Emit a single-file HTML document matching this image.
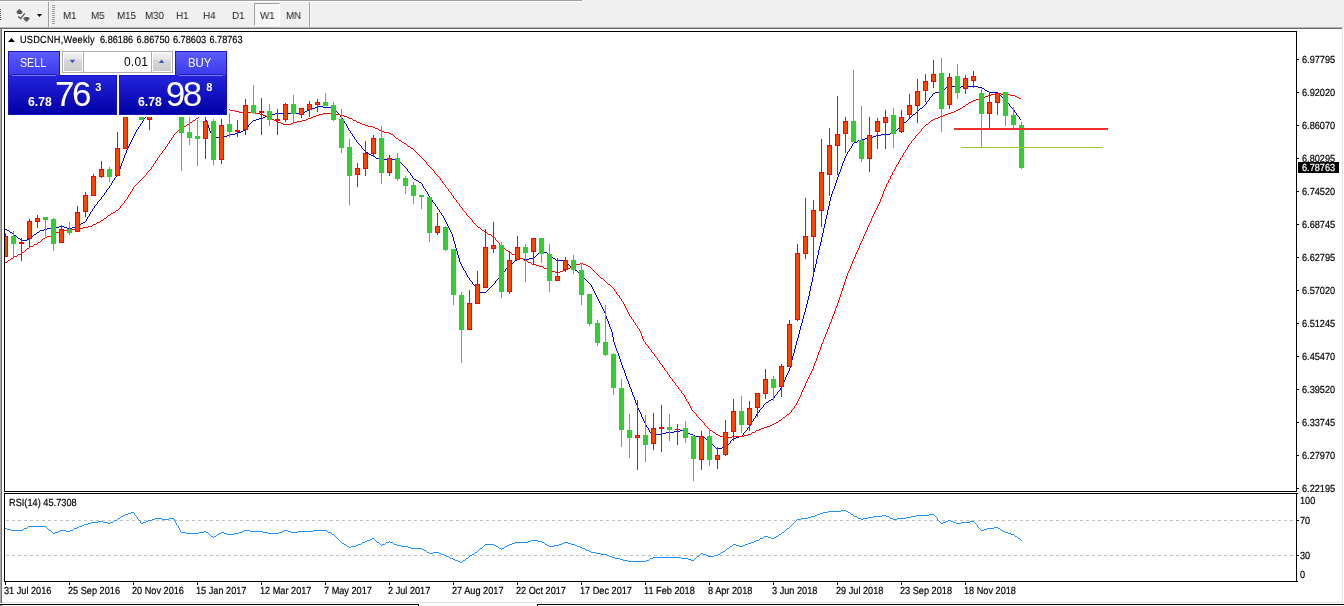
<!DOCTYPE html>
<html><head><meta charset="utf-8"><title>USDCNH Weekly</title>
<style>
html,body{margin:0;padding:0;background:#fff;}
body{width:1344px;height:606px;position:relative;overflow:hidden;font-family:"Liberation Sans",sans-serif;}
.abs{position:absolute;}
.ax{position:absolute;font-size:10.3px;line-height:12px;letter-spacing:0;margin-top:2px;transform:scaleX(0.89);transform-origin:0 0;text-rendering:geometricPrecision;-webkit-text-stroke:0.2px #000;color:#000;white-space:nowrap;}
.tf{position:absolute;top:11px;font-size:10.3px;line-height:12px;letter-spacing:0;transform:scaleX(0.95);transform-origin:0 0;will-change:transform;text-rendering:geometricPrecision;color:#222;white-space:nowrap;}
#toolbar{position:absolute;left:0;top:0;width:1344px;height:27px;background:#F0F0F0;}
.w{color:#fff;position:absolute;white-space:nowrap;}
</style></head><body>
<div id="toolbar">
 <div class="abs" style="left:0;top:0;width:582px;height:1px;background:#A0A0A0"></div>
 <div class="abs" style="left:0;top:1px;width:583px;height:1px;background:#fff"></div>
 <div style="position:absolute;left:0;top:9px;width:1px;height:1px;background:#555"></div><div style="position:absolute;left:0;top:11px;width:1px;height:1px;background:#555"></div><div style="position:absolute;left:0;top:13px;width:1px;height:1px;background:#555"></div><div style="position:absolute;left:0;top:15px;width:1px;height:1px;background:#555"></div><div style="position:absolute;left:0;top:17px;width:1px;height:1px;background:#555"></div><div style="position:absolute;left:0;top:19px;width:1px;height:1px;background:#555"></div>
 <svg class="abs" style="left:14px;top:7px" width="32" height="18" viewBox="14 7 32 18">
  <path d="M19.4 8.8 L23.2 12.6 L21.8 12.6 L21.8 14 L17.3 14 L17.3 12.6 L15.8 12.6 Z" fill="#585858"/>
  <path d="M26.5 22 L30.2 18.2 L28.6 18.2 L28.6 17 L24.4 17 L24.4 18.2 L22.8 18.2 Z" fill="#585858"/>
  <path d="M18.2 16.4 L20.6 18.6 L24.8 13.4" fill="none" stroke="#555" stroke-width="1.3"/>
  <path d="M37 14 L42 14 L39.5 17 Z" fill="#000"/>
 </svg>
 <div class="abs" style="left:48px;top:2px;width:1px;height:25px;background:#A0A0A0"></div>
 <div class="abs" style="left:49px;top:2px;width:1px;height:25px;background:#F8F8F8"></div>
 <div style="position:absolute;left:52px;top:5px;width:3px;height:1px;background:#A0A0A0"></div><div style="position:absolute;left:52px;top:7px;width:3px;height:1px;background:#A0A0A0"></div><div style="position:absolute;left:52px;top:9px;width:3px;height:1px;background:#A0A0A0"></div><div style="position:absolute;left:52px;top:11px;width:3px;height:1px;background:#A0A0A0"></div><div style="position:absolute;left:52px;top:13px;width:3px;height:1px;background:#A0A0A0"></div><div style="position:absolute;left:52px;top:15px;width:3px;height:1px;background:#A0A0A0"></div><div style="position:absolute;left:52px;top:17px;width:3px;height:1px;background:#A0A0A0"></div><div style="position:absolute;left:52px;top:19px;width:3px;height:1px;background:#A0A0A0"></div><div style="position:absolute;left:52px;top:21px;width:3px;height:1px;background:#A0A0A0"></div><div style="position:absolute;left:52px;top:23px;width:3px;height:1px;background:#A0A0A0"></div>
 <div class="abs" style="left:254px;top:3px;width:24px;height:21px;background:#F7F7F7;border-left:1px solid #A0A0A0;border-top:1px solid #A0A0A0;border-right:1px solid #fff;border-bottom:1px solid #fff;box-sizing:content-box"></div>
 <div class="tf" style="left:63.4px">M1</div>
<div class="tf" style="left:91.3px">M5</div>
<div class="tf" style="left:117.4px">M15</div>
<div class="tf" style="left:145px">M30</div>
<div class="tf" style="left:176.4px">H1</div>
<div class="tf" style="left:203.4px">H4</div>
<div class="tf" style="left:232.4px">D1</div>
<div class="tf" style="left:259.8px">W1</div>
<div class="tf" style="left:286.4px">MN</div>
 <div class="abs" style="left:309px;top:2px;width:1px;height:25px;background:#A0A0A0"></div>
 <div class="abs" style="left:310px;top:2px;width:1px;height:25px;background:#F8F8F8"></div>
</div>
<div class="abs" style="left:0;top:27px;width:1342px;height:1px;background:#B4B4B4"></div>
<div class="abs" style="left:0;top:28px;width:1342px;height:1px;background:#696969"></div>
<div class="abs" style="left:0;top:29px;width:1px;height:574px;background:#ABABAB"></div>
<div class="abs" style="left:1px;top:29px;width:1px;height:574px;background:#6E6E6E"></div>
<div class="abs" style="left:1342px;top:27px;width:1px;height:576px;background:#E3E3E3"></div>
<div class="abs" style="left:2px;top:602px;width:1341px;height:1px;background:#E3E3E3"></div>
<div class="abs" style="left:0;top:605px;width:2px;height:1px;background:#8C8C8C"></div>
<div class="abs" style="left:0;top:604px;width:419px;height:1px;background:#000"></div>
<div class="abs" style="left:418px;top:604px;width:1px;height:2px;background:#000"></div>
<div class="abs" style="left:537px;top:604px;width:807px;height:1px;background:#000"></div>
<div class="abs" style="left:537px;top:604px;width:1px;height:2px;background:#000"></div>

<svg class="abs" style="left:0;top:0" width="1344" height="606" viewBox="0 0 1344 606">
<defs><clipPath id="cm"><rect x="5" y="32" width="1291" height="459"/></clipPath>
<clipPath id="cr"><rect x="5" y="494" width="1291" height="87"/></clipPath></defs>
<g clip-path="url(#cm)" shape-rendering="crispEdges">
<path d="M5 229h2v1h-2zM7 230h2v1h-2zM9 231h1v1h-1zM10 232h2v1h-2zM12 233h1v1h-1zM13 234h1v1h-1zM14 235h2v1h-2zM16 236h1v1h-1zM17 237h1v1h-1zM18 238h2v1h-2zM20 239h1v1h-1zM21 240h6v1h-6zM27 239h2v1h-2zM29 238h1v1h-1zM30 237h1v1h-1zM31 236h2v1h-2zM33 235h1v1h-1zM34 234h2v1h-2zM36 233h1v1h-1zM37 232h2v1h-2zM39 231h1v1h-1zM40 230h4v1h-4zM44 229h3v1h-3zM47 228h7v1h-7zM54 227h5v1h-5zM59 226h5v1h-5zM64 227h3v1h-3zM67 228h5v1h-5zM72 227h3v1h-3zM75 226h2v1h-2zM77 225h2v1h-2zM79 224h2v1h-2zM81 223h2v1h-2zM83 222h2v1h-2zM85 221h1v1h-1zM86 219h1v2h-1zM87 217h1v2h-1zM88 216h1v1h-1zM89 214h1v2h-1zM90 212h1v2h-1zM91 211h1v1h-1zM92 209h1v2h-1zM93 208h1v1h-1zM94 206h1v2h-1zM95 205h1v1h-1zM96 204h1v1h-1zM97 202h1v2h-1zM98 201h1v1h-1zM99 200h1v1h-1zM100 199h1v1h-1zM101 197h1v2h-1zM102 196h1v1h-1zM103 195h1v1h-1zM104 193h1v2h-1zM105 192h1v1h-1zM106 190h1v2h-1zM107 189h1v1h-1zM108 188h1v1h-1zM109 186h1v2h-1zM110 185h1v1h-1zM111 183h1v2h-1zM112 181h1v2h-1zM113 180h1v1h-1zM114 178h1v2h-1zM115 177h1v1h-1zM116 175h1v2h-1zM117 173h1v2h-1zM118 171h1v2h-1zM119 169h1v2h-1zM120 166h1v3h-1zM121 163h1v3h-1zM122 161h1v2h-1zM123 158h1v3h-1zM124 155h1v3h-1zM125 153h1v2h-1zM126 150h1v3h-1zM127 148h1v2h-1zM128 146h1v2h-1zM129 144h1v2h-1zM130 142h1v2h-1zM131 140h1v2h-1zM132 138h1v2h-1zM133 136h1v2h-1zM134 134h1v2h-1zM135 132h1v2h-1zM136 130h1v2h-1zM137 129h1v1h-1zM138 127h1v2h-1zM139 126h1v1h-1zM140 124h1v2h-1zM141 123h1v1h-1zM142 121h1v2h-1zM143 119h1v2h-1zM144 118h1v1h-1zM145 117h1v1h-1zM146 115h1v2h-1zM147 114h1v1h-1zM148 112h1v2h-1zM149 111h1v1h-1zM150 110h1v1h-1zM151 109h1v1h-1zM152 108h2v1h-2zM154 107h1v1h-1zM155 106h1v1h-1zM156 105h1v1h-1zM157 104h2v1h-2zM159 103h1v1h-1zM160 102h3v1h-3zM163 101h5v1h-5zM168 100h4v1h-4zM172 101h2v1h-2zM174 102h3v1h-3zM177 103h2v1h-2zM179 104h3v1h-3zM182 105h2v1h-2zM184 106h3v1h-3zM187 107h2v1h-2zM189 108h4v1h-4zM193 109h3v1h-3zM196 110h3v1h-3zM199 111h1v1h-1zM200 112h2v1h-2zM202 113h1v1h-1zM203 114h1v1h-1zM204 115h1v2h-1zM205 117h1v3h-1zM206 120h1v3h-1zM207 123h1v2h-1zM208 125h1v3h-1zM209 128h1v3h-1zM210 131h1v2h-1zM211 133h1v1h-1zM212 134h2v1h-2zM214 135h1v1h-1zM215 136h1v1h-1zM216 137h4v1h-4zM220 136h7v1h-7zM227 135h3v1h-3zM230 134h5v1h-5zM235 133h3v1h-3zM238 132h3v1h-3zM241 131h2v1h-2zM243 130h2v1h-2zM245 129h1v1h-1zM246 128h1v1h-1zM247 127h1v1h-1zM248 125h1v2h-1zM249 124h1v1h-1zM250 123h1v1h-1zM251 122h1v1h-1zM252 121h1v1h-1zM253 120h3v1h-3zM256 119h3v1h-3zM259 118h4v1h-4zM263 117h2v1h-2zM265 116h2v1h-2zM267 115h2v1h-2zM269 114h6v1h-6zM275 113h27v1h-27zM302 112h3v1h-3zM305 111h2v1h-2zM307 110h3v1h-3zM310 109h2v1h-2zM312 108h3v1h-3zM315 107h2v1h-2zM317 106h6v1h-6zM323 107h8v1h-8zM331 108h2v1h-2zM333 109h1v1h-1zM334 110h1v1h-1zM335 111h2v1h-2zM337 112h1v1h-1zM338 113h1v1h-1zM339 114h1v1h-1zM340 115h1v2h-1zM341 117h1v1h-1zM342 118h1v1h-1zM343 119h1v2h-1zM344 121h1v2h-1zM345 123h1v1h-1zM346 124h1v2h-1zM347 126h1v2h-1zM348 128h1v2h-1zM349 130h1v1h-1zM350 131h1v2h-1zM351 133h1v1h-1zM352 134h1v2h-1zM353 136h1v1h-1zM354 137h1v2h-1zM355 139h1v1h-1zM356 140h1v2h-1zM357 142h1v1h-1zM358 143h1v1h-1zM359 144h1v1h-1zM360 145h1v1h-1zM361 146h1v2h-1zM362 148h1v1h-1zM363 149h1v1h-1zM364 150h1v1h-1zM365 151h1v1h-1zM366 152h2v1h-2zM368 153h1v1h-1zM369 154h2v1h-2zM371 155h2v1h-2zM373 156h2v1h-2zM375 157h1v1h-1zM376 158h3v1h-3zM379 159h16v1h-16zM395 160h2v1h-2zM397 161h2v1h-2zM399 162h2v1h-2zM401 163h1v1h-1zM402 164h1v1h-1zM403 165h1v1h-1zM404 166h1v1h-1zM405 167h1v1h-1zM406 168h1v1h-1zM407 169h1v2h-1zM408 171h1v1h-1zM409 172h1v1h-1zM410 173h1v2h-1zM411 175h1v1h-1zM412 176h1v2h-1zM413 178h1v1h-1zM414 179h2v1h-2zM416 180h2v1h-2zM418 181h1v1h-1zM419 182h2v1h-2zM421 183h1v1h-1zM422 184h1v2h-1zM423 186h1v2h-1zM424 188h1v1h-1zM425 189h1v2h-1zM426 191h1v1h-1zM427 192h1v2h-1zM428 194h1v2h-1zM429 196h1v1h-1zM430 197h1v2h-1zM431 199h1v1h-1zM432 200h1v2h-1zM433 202h1v1h-1zM434 203h1v1h-1zM435 204h1v2h-1zM436 206h1v1h-1zM437 207h1v2h-1zM438 209h1v1h-1zM439 210h1v2h-1zM440 212h1v1h-1zM441 213h1v2h-1zM442 215h1v1h-1zM443 216h1v2h-1zM444 218h1v2h-1zM445 220h1v2h-1zM446 222h1v2h-1zM447 224h1v2h-1zM448 226h1v2h-1zM449 228h1v2h-1zM450 230h1v2h-1zM451 232h1v2h-1zM452 234h1v3h-1zM453 237h1v4h-1zM454 241h1v3h-1zM455 244h1v4h-1zM456 248h1v3h-1zM457 251h1v4h-1zM458 255h1v3h-1zM459 258h1v4h-1zM460 262h1v2h-1zM461 264h1v2h-1zM462 266h1v2h-1zM463 268h1v2h-1zM464 270h1v1h-1zM465 271h1v2h-1zM466 273h1v2h-1zM467 275h1v2h-1zM468 277h1v1h-1zM469 278h1v2h-1zM470 280h1v1h-1zM471 281h1v1h-1zM472 282h1v2h-1zM473 284h1v1h-1zM474 285h1v1h-1zM475 286h1v2h-1zM476 288h1v1h-1zM477 289h1v1h-1zM478 290h1v1h-1zM479 291h1v1h-1zM480 292h6v1h-6zM486 291h1v1h-1zM487 290h1v1h-1zM488 289h1v1h-1zM489 288h1v1h-1zM490 287h1v1h-1zM491 286h1v1h-1zM492 285h1v1h-1zM493 284h1v1h-1zM494 283h1v1h-1zM495 281h1v2h-1zM496 280h1v1h-1zM497 279h1v1h-1zM498 278h1v1h-1zM499 276h1v2h-1zM500 275h1v1h-1zM501 274h1v1h-1zM502 273h1v1h-1zM503 272h1v1h-1zM504 271h1v1h-1zM505 269h1v2h-1zM506 268h1v1h-1zM507 267h1v1h-1zM508 266h1v1h-1zM509 265h1v1h-1zM510 264h2v1h-2zM512 263h1v1h-1zM513 262h1v1h-1zM514 261h1v1h-1zM515 260h2v1h-2zM517 259h2v1h-2zM519 258h4v1h-4zM523 259h6v1h-6zM529 258h5v1h-5zM534 257h1v1h-1zM535 256h1v1h-1zM536 255h1v1h-1zM537 254h1v1h-1zM538 253h2v1h-2zM540 252h2v1h-2zM542 251h2v1h-2zM544 252h3v1h-3zM547 253h1v1h-1zM548 254h2v1h-2zM550 255h1v1h-1zM551 256h1v1h-1zM552 257h1v1h-1zM553 258h2v1h-2zM555 259h1v1h-1zM556 260h7v1h-7zM563 261h2v1h-2zM565 262h1v1h-1zM566 263h1v1h-1zM567 264h2v1h-2zM569 265h1v1h-1zM570 266h1v1h-1zM571 267h2v1h-2zM573 268h1v1h-1zM574 269h1v1h-1zM575 270h2v1h-2zM577 271h1v1h-1zM578 272h1v1h-1zM579 273h1v1h-1zM580 274h1v1h-1zM581 275h1v1h-1zM582 276h1v1h-1zM583 277h1v1h-1zM584 278h1v1h-1zM585 279h1v1h-1zM586 280h1v1h-1zM587 281h1v1h-1zM588 282h1v1h-1zM589 283h1v1h-1zM590 284h1v1h-1zM591 285h1v2h-1zM592 287h1v2h-1zM593 289h1v2h-1zM594 291h1v2h-1zM595 293h1v2h-1zM596 295h1v2h-1zM597 297h1v2h-1zM598 299h1v2h-1zM599 301h1v2h-1zM600 303h1v2h-1zM601 305h1v2h-1zM602 307h1v2h-1zM603 309h1v2h-1zM604 311h1v2h-1zM605 313h1v3h-1zM606 316h1v3h-1zM607 319h1v2h-1zM608 321h1v3h-1zM609 324h1v3h-1zM610 327h1v2h-1zM611 329h1v3h-1zM612 332h1v5h-1zM613 337h1v5h-1zM614 342h1v3h-1zM615 345h1v3h-1zM616 348h1v3h-1zM617 351h1v2h-1zM618 353h1v3h-1zM619 356h1v3h-1zM620 359h1v3h-1zM621 362h1v3h-1zM622 365h1v3h-1zM623 368h1v2h-1zM624 370h1v3h-1zM625 373h1v3h-1zM626 376h1v3h-1zM627 379h1v2h-1zM628 381h1v3h-1zM629 384h1v3h-1zM630 387h1v2h-1zM631 389h1v3h-1zM632 392h1v3h-1zM633 395h1v2h-1zM634 397h1v3h-1zM635 400h1v3h-1zM636 403h1v2h-1zM637 405h1v3h-1zM638 408h1v2h-1zM639 410h1v2h-1zM640 412h1v2h-1zM641 414h1v3h-1zM642 417h1v2h-1zM643 419h1v2h-1zM644 421h1v2h-1zM645 423h1v2h-1zM646 425h1v2h-1zM647 427h1v1h-1zM648 428h1v2h-1zM649 430h1v2h-1zM650 432h2v1h-2zM652 433h4v1h-4zM656 434h5v1h-5zM661 433h5v1h-5zM666 432h8v1h-8zM674 431h6v1h-6zM680 430h4v1h-4zM684 431h2v1h-2zM686 432h2v1h-2zM688 433h2v1h-2zM690 434h3v1h-3zM693 435h2v1h-2zM695 436h6v1h-6zM701 437h4v1h-4zM705 438h1v1h-1zM706 439h1v1h-1zM707 440h2v1h-2zM709 441h1v1h-1zM710 442h1v1h-1zM711 443h1v1h-1zM712 444h1v1h-1zM713 445h1v1h-1zM714 446h1v1h-1zM715 447h1v1h-1zM716 448h6v1h-6zM722 447h1v1h-1zM723 446h3v1h-3zM726 445h1v1h-1zM727 444h2v1h-2zM729 443h1v1h-1zM730 441h1v2h-1zM731 440h1v1h-1zM732 439h1v1h-1zM733 438h3v1h-3zM736 437h3v1h-3zM739 436h3v1h-3zM742 435h1v1h-1zM743 433h1v2h-1zM744 432h1v1h-1zM745 431h1v1h-1zM746 430h1v1h-1zM747 428h1v2h-1zM748 427h1v1h-1zM749 426h1v1h-1zM750 424h1v2h-1zM751 422h1v2h-1zM752 421h1v1h-1zM753 419h1v2h-1zM754 418h1v1h-1zM755 416h1v2h-1zM756 414h1v2h-1zM757 413h1v1h-1zM758 412h1v1h-1zM759 410h1v2h-1zM760 409h1v1h-1zM761 408h1v1h-1zM762 407h1v1h-1zM763 405h1v2h-1zM764 404h1v1h-1zM765 403h1v1h-1zM766 402h2v1h-2zM768 401h1v1h-1zM769 400h2v1h-2zM771 399h2v1h-2zM773 398h1v1h-1zM774 396h1v2h-1zM775 395h1v1h-1zM776 394h1v1h-1zM777 392h1v2h-1zM778 391h1v1h-1zM779 390h1v1h-1zM780 388h1v2h-1zM781 386h1v2h-1zM782 384h1v2h-1zM783 382h1v2h-1zM784 380h1v2h-1zM785 377h1v3h-1zM786 375h1v2h-1zM787 373h1v2h-1zM788 371h1v2h-1zM789 368h1v3h-1zM790 364h1v4h-1zM791 360h1v4h-1zM792 356h1v4h-1zM793 353h1v3h-1zM794 349h1v4h-1zM795 345h1v4h-1zM796 341h1v4h-1zM797 338h1v3h-1zM798 334h1v4h-1zM799 330h1v4h-1zM800 326h1v4h-1zM801 323h1v3h-1zM802 319h1v4h-1zM803 315h1v4h-1zM804 312h1v3h-1zM805 308h1v4h-1zM806 304h1v4h-1zM807 300h1v4h-1zM808 296h1v4h-1zM809 291h1v5h-1zM810 286h1v5h-1zM811 282h1v4h-1zM812 277h1v5h-1zM813 272h1v5h-1zM814 268h1v4h-1zM815 264h1v4h-1zM816 259h1v5h-1zM817 255h1v4h-1zM818 250h1v5h-1zM819 246h1v4h-1zM820 242h1v4h-1zM821 237h1v5h-1zM822 233h1v4h-1zM823 228h1v5h-1zM824 224h1v4h-1zM825 219h1v5h-1zM826 215h1v4h-1zM827 210h1v5h-1zM828 206h1v4h-1zM829 201h1v5h-1zM830 197h1v4h-1zM831 194h1v3h-1zM832 191h1v3h-1zM833 189h1v2h-1zM834 186h1v3h-1zM835 183h1v3h-1zM836 180h1v3h-1zM837 177h1v3h-1zM838 174h1v3h-1zM839 172h1v2h-1zM840 169h1v3h-1zM841 166h1v3h-1zM842 163h1v3h-1zM843 161h1v2h-1zM844 158h1v3h-1zM845 156h1v2h-1zM846 154h1v2h-1zM847 152h1v2h-1zM848 151h1v1h-1zM849 149h1v2h-1zM850 148h1v1h-1zM851 146h1v2h-1zM852 144h1v2h-1zM853 143h1v1h-1zM854 142h3v1h-3zM857 141h1v1h-1zM858 140h3v1h-3zM861 139h4v1h-4zM865 138h6v1h-6zM871 137h2v1h-2zM873 136h3v1h-3zM876 135h5v1h-5zM881 134h9v1h-9zM890 133h4v1h-4zM894 132h1v1h-1zM895 131h1v1h-1zM896 130h1v1h-1zM897 129h1v1h-1zM898 128h1v1h-1zM899 127h1v1h-1zM900 126h1v1h-1zM901 125h1v1h-1zM902 124h1v1h-1zM903 123h1v1h-1zM904 122h2v1h-2zM906 121h1v1h-1zM907 120h1v1h-1zM908 119h1v1h-1zM909 118h1v1h-1zM910 117h1v1h-1zM911 116h1v1h-1zM912 115h1v1h-1zM913 114h2v1h-2zM915 113h1v1h-1zM916 112h1v1h-1zM917 111h1v1h-1zM918 110h1v1h-1zM919 109h1v1h-1zM920 108h2v1h-2zM922 107h1v1h-1zM923 106h1v1h-1zM924 105h1v1h-1zM925 104h1v1h-1zM926 102h1v2h-1zM927 101h1v1h-1zM928 100h1v1h-1zM929 98h1v2h-1zM930 97h1v1h-1zM931 96h1v1h-1zM932 94h1v2h-1zM933 93h2v1h-2zM935 92h5v1h-5zM940 91h2v1h-2zM942 90h2v1h-2zM944 89h1v1h-1zM945 88h1v1h-1zM946 87h1v1h-1zM947 86h2v1h-2zM949 85h2v1h-2zM951 86h5v1h-5zM956 87h5v1h-5zM961 86h17v1h-17zM978 87h4v1h-4zM982 88h2v1h-2zM984 89h1v1h-1zM985 90h2v1h-2zM987 91h2v1h-2zM989 92h9v1h-9zM998 93h1v1h-1zM999 94h1v1h-1zM1000 95h1v1h-1zM1001 96h1v1h-1zM1002 97h1v1h-1zM1003 98h1v1h-1zM1004 99h1v1h-1zM1005 100h1v1h-1zM1006 101h1v1h-1zM1007 102h1v1h-1zM1008 103h1v1h-1zM1009 104h1v2h-1zM1010 106h1v1h-1zM1011 107h1v1h-1zM1012 108h1v1h-1zM1013 109h1v1h-1zM1014 110h1v2h-1zM1015 112h1v1h-1zM1016 113h1v2h-1zM1017 115h1v1h-1zM1018 116h1v1h-1zM1019 117h1v2h-1zM1020 119h1v1h-1z" fill="#0000CD"/>
<path d="M5 262h2v1h-2zM7 261h1v1h-1zM8 260h2v1h-2zM10 259h1v1h-1zM11 258h2v1h-2zM13 257h1v1h-1zM14 256h3v1h-3zM17 255h1v1h-1zM18 254h3v1h-3zM21 253h1v1h-1zM22 252h2v1h-2zM24 251h1v1h-1zM25 250h1v1h-1zM26 249h1v1h-1zM27 248h2v1h-2zM29 247h1v1h-1zM30 246h3v1h-3zM33 245h1v1h-1zM34 244h3v1h-3zM37 243h1v1h-1zM38 242h2v1h-2zM40 241h1v1h-1zM41 240h1v1h-1zM42 239h1v1h-1zM43 238h2v1h-2zM45 237h2v1h-2zM47 236h4v1h-4zM51 235h1v1h-1zM52 234h3v1h-3zM55 233h1v1h-1zM56 232h4v1h-4zM60 231h3v1h-3zM63 230h7v1h-7zM70 229h7v1h-7zM77 228h6v1h-6zM83 227h5v1h-5zM88 226h4v1h-4zM92 225h1v1h-1zM93 224h3v1h-3zM96 223h1v1h-1zM97 222h3v1h-3zM100 221h1v1h-1zM101 220h2v1h-2zM103 219h1v1h-1zM104 218h2v1h-2zM106 217h1v1h-1zM107 216h1v1h-1zM108 215h2v1h-2zM110 214h1v1h-1zM111 213h2v1h-2zM113 212h2v1h-2zM115 211h1v1h-1zM116 210h2v1h-2zM118 209h1v1h-1zM119 208h1v1h-1zM120 206h1v2h-1zM121 205h1v1h-1zM122 204h1v1h-1zM123 203h1v1h-1zM124 201h1v2h-1zM125 200h1v1h-1zM126 199h1v1h-1zM127 197h1v2h-1zM128 195h1v2h-1zM129 194h1v1h-1zM130 192h1v2h-1zM131 191h1v1h-1zM132 189h1v2h-1zM133 187h1v2h-1zM134 186h1v1h-1zM135 185h1v1h-1zM136 184h1v1h-1zM137 183h1v1h-1zM138 182h1v1h-1zM139 181h1v1h-1zM140 180h1v1h-1zM141 179h1v1h-1zM142 178h1v1h-1zM143 177h1v1h-1zM144 176h1v1h-1zM145 175h1v1h-1zM146 173h1v2h-1zM147 172h1v1h-1zM148 171h1v1h-1zM149 170h1v1h-1zM150 169h1v1h-1zM151 167h1v2h-1zM152 166h1v1h-1zM153 164h1v2h-1zM154 163h1v1h-1zM155 161h1v2h-1zM156 160h1v1h-1zM157 158h1v2h-1zM158 157h1v1h-1zM159 155h1v2h-1zM160 154h1v1h-1zM161 153h1v1h-1zM162 151h1v2h-1zM163 150h1v1h-1zM164 149h1v1h-1zM165 147h1v2h-1zM166 146h1v1h-1zM167 144h1v2h-1zM168 143h1v1h-1zM169 141h1v2h-1zM170 140h1v1h-1zM171 138h1v2h-1zM172 137h1v1h-1zM173 135h1v2h-1zM174 134h1v1h-1zM175 133h1v1h-1zM176 132h1v1h-1zM177 131h1v1h-1zM178 130h1v1h-1zM179 129h2v1h-2zM181 128h2v1h-2zM183 127h1v1h-1zM184 126h2v1h-2zM186 125h1v1h-1zM187 124h2v1h-2zM189 123h1v1h-1zM190 122h2v1h-2zM192 121h1v1h-1zM193 120h2v1h-2zM195 119h1v1h-1zM196 118h2v1h-2zM198 117h1v1h-1zM199 115h1v2h-1zM200 114h2v1h-2zM202 113h2v1h-2zM204 112h3v1h-3zM207 111h2v1h-2zM209 110h4v1h-4zM213 109h5v1h-5zM218 108h7v1h-7zM225 109h5v1h-5zM230 110h5v1h-5zM235 111h4v1h-4zM239 112h16v1h-16zM255 113h5v1h-5zM260 114h3v1h-3zM263 115h3v1h-3zM266 116h2v1h-2zM268 117h2v1h-2zM270 118h2v1h-2zM272 119h2v1h-2zM274 120h2v1h-2zM276 121h2v1h-2zM278 122h3v1h-3zM281 123h2v1h-2zM283 124h8v1h-8zM291 123h2v1h-2zM293 122h4v1h-4zM297 121h5v1h-5zM302 120h4v1h-4zM306 119h2v1h-2zM308 118h3v1h-3zM311 117h2v1h-2zM313 116h3v1h-3zM316 115h3v1h-3zM319 114h4v1h-4zM323 113h10v1h-10zM333 114h7v1h-7zM340 115h4v1h-4zM344 116h3v1h-3zM347 117h2v1h-2zM349 118h3v1h-3zM352 119h1v1h-1zM353 120h3v1h-3zM356 121h1v1h-1zM357 122h3v1h-3zM360 123h2v1h-2zM362 124h3v1h-3zM365 125h3v1h-3zM368 126h5v1h-5zM373 127h2v1h-2zM375 128h3v1h-3zM378 129h1v1h-1zM379 130h3v1h-3zM382 131h2v1h-2zM384 132h5v1h-5zM389 133h2v1h-2zM391 134h2v1h-2zM393 135h1v1h-1zM394 136h1v1h-1zM395 137h1v1h-1zM396 138h2v1h-2zM398 139h1v1h-1zM399 140h2v1h-2zM401 141h1v1h-1zM402 142h2v1h-2zM404 143h2v1h-2zM406 144h1v1h-1zM407 145h1v1h-1zM408 146h2v1h-2zM410 147h1v1h-1zM411 148h2v1h-2zM413 149h1v1h-1zM414 150h1v1h-1zM415 151h1v1h-1zM416 152h1v1h-1zM417 153h1v1h-1zM418 154h1v1h-1zM419 155h1v1h-1zM420 156h1v1h-1zM421 157h1v1h-1zM422 158h1v1h-1zM423 159h1v1h-1zM424 160h1v1h-1zM425 161h1v1h-1zM426 162h1v2h-1zM427 164h1v1h-1zM428 165h1v1h-1zM429 166h1v1h-1zM430 167h1v1h-1zM431 168h1v1h-1zM432 169h1v1h-1zM433 170h1v1h-1zM434 171h1v2h-1zM435 173h1v1h-1zM436 174h1v1h-1zM437 175h1v1h-1zM438 176h1v1h-1zM439 177h1v1h-1zM440 178h1v2h-1zM441 180h1v1h-1zM442 181h1v2h-1zM443 183h1v1h-1zM444 184h1v1h-1zM445 185h1v2h-1zM446 187h1v1h-1zM447 188h1v1h-1zM448 189h1v2h-1zM449 191h1v1h-1zM450 192h1v1h-1zM451 193h1v2h-1zM452 195h1v1h-1zM453 196h1v2h-1zM454 198h1v1h-1zM455 199h1v1h-1zM456 200h1v2h-1zM457 202h1v1h-1zM458 203h1v1h-1zM459 204h1v2h-1zM460 206h1v1h-1zM461 207h1v1h-1zM462 208h1v2h-1zM463 210h1v1h-1zM464 211h1v1h-1zM465 212h1v1h-1zM466 213h1v2h-1zM467 215h1v1h-1zM468 216h1v1h-1zM469 217h1v1h-1zM470 218h1v1h-1zM471 219h1v1h-1zM472 220h1v2h-1zM473 222h1v1h-1zM474 223h1v1h-1zM475 224h1v1h-1zM476 225h1v1h-1zM477 226h1v1h-1zM478 227h2v1h-2zM480 228h1v1h-1zM481 229h1v1h-1zM482 230h2v1h-2zM484 231h1v1h-1zM485 232h2v1h-2zM487 233h1v1h-1zM488 234h3v1h-3zM491 235h1v1h-1zM492 236h2v1h-2zM494 237h1v1h-1zM495 238h1v2h-1zM496 240h1v1h-1zM497 241h1v1h-1zM498 242h1v1h-1zM499 243h1v2h-1zM500 245h1v1h-1zM501 246h1v1h-1zM502 247h1v1h-1zM503 248h2v1h-2zM505 249h1v1h-1zM506 250h2v1h-2zM508 251h1v1h-1zM509 252h2v1h-2zM511 253h1v1h-1zM512 254h3v1h-3zM515 255h1v1h-1zM516 256h3v1h-3zM519 257h1v1h-1zM520 258h3v1h-3zM523 259h1v1h-1zM524 260h3v1h-3zM527 261h1v1h-1zM528 262h3v1h-3zM531 263h1v1h-1zM532 264h4v1h-4zM536 265h3v1h-3zM539 266h4v1h-4zM543 267h1v1h-1zM544 268h3v1h-3zM547 269h1v1h-1zM548 270h4v1h-4zM552 271h3v1h-3zM555 272h5v1h-5zM560 271h3v1h-3zM563 270h3v1h-3zM566 269h2v1h-2zM568 268h2v1h-2zM570 267h1v1h-1zM571 266h2v1h-2zM573 265h2v1h-2zM575 264h5v1h-5zM580 263h3v1h-3zM583 264h3v1h-3zM586 265h2v1h-2zM588 266h2v1h-2zM590 267h1v1h-1zM591 268h1v1h-1zM592 269h1v1h-1zM593 270h1v1h-1zM594 271h1v1h-1zM595 272h1v1h-1zM596 273h1v1h-1zM597 274h1v1h-1zM598 275h1v1h-1zM599 276h1v1h-1zM600 277h1v1h-1zM601 278h2v1h-2zM603 279h1v1h-1zM604 280h1v1h-1zM605 281h1v1h-1zM606 282h1v1h-1zM607 283h1v1h-1zM608 284h2v1h-2zM610 285h1v1h-1zM611 286h1v1h-1zM612 287h1v1h-1zM613 288h1v1h-1zM614 289h1v2h-1zM615 291h1v1h-1zM616 292h1v2h-1zM617 294h1v1h-1zM618 295h1v1h-1zM619 296h1v2h-1zM620 298h1v1h-1zM621 299h1v2h-1zM622 301h1v1h-1zM623 302h1v2h-1zM624 304h1v2h-1zM625 306h1v2h-1zM626 308h1v2h-1zM627 310h1v2h-1zM628 312h1v2h-1zM629 314h1v2h-1zM630 316h1v1h-1zM631 317h1v2h-1zM632 319h1v1h-1zM633 320h1v2h-1zM634 322h1v1h-1zM635 323h1v2h-1zM636 325h1v1h-1zM637 326h1v2h-1zM638 328h1v1h-1zM639 329h1v2h-1zM640 331h1v2h-1zM641 333h1v3h-1zM642 336h1v3h-1zM643 339h1v2h-1zM644 341h1v1h-1zM645 342h1v2h-1zM646 344h1v1h-1zM647 345h1v1h-1zM648 346h1v2h-1zM649 348h1v1h-1zM650 349h1v1h-1zM651 350h1v2h-1zM652 352h1v1h-1zM653 353h1v1h-1zM654 354h1v2h-1zM655 356h1v1h-1zM656 357h1v1h-1zM657 358h1v2h-1zM658 360h1v1h-1zM659 361h1v2h-1zM660 363h1v1h-1zM661 364h1v1h-1zM662 365h1v2h-1zM663 367h1v1h-1zM664 368h1v2h-1zM665 370h1v1h-1zM666 371h1v1h-1zM667 372h1v2h-1zM668 374h1v1h-1zM669 375h1v2h-1zM670 377h1v1h-1zM671 378h1v1h-1zM672 379h1v2h-1zM673 381h1v1h-1zM674 382h1v1h-1zM675 383h1v2h-1zM676 385h1v1h-1zM677 386h1v1h-1zM678 387h1v2h-1zM679 389h1v1h-1zM680 390h1v1h-1zM681 391h1v2h-1zM682 393h1v1h-1zM683 394h1v1h-1zM684 395h1v2h-1zM685 397h1v2h-1zM686 399h1v2h-1zM687 401h1v1h-1zM688 402h1v2h-1zM689 404h1v2h-1zM690 406h1v2h-1zM691 408h1v2h-1zM692 410h1v1h-1zM693 411h1v1h-1zM694 412h1v1h-1zM695 413h1v1h-1zM696 414h1v2h-1zM697 416h1v1h-1zM698 417h1v1h-1zM699 418h1v1h-1zM700 419h1v1h-1zM701 420h1v1h-1zM702 421h1v1h-1zM703 422h1v1h-1zM704 423h1v2h-1zM705 425h1v1h-1zM706 426h1v1h-1zM707 427h1v1h-1zM708 428h1v1h-1zM709 429h1v1h-1zM710 430h2v1h-2zM712 431h1v1h-1zM713 432h2v1h-2zM715 433h1v1h-1zM716 434h2v1h-2zM718 435h2v1h-2zM720 436h5v1h-5zM725 437h7v1h-7zM732 436h12v1h-12zM744 435h4v1h-4zM748 434h3v1h-3zM751 433h1v1h-1zM752 432h3v1h-3zM755 431h1v1h-1zM756 430h3v1h-3zM759 429h2v1h-2zM761 428h3v1h-3zM764 427h3v1h-3zM767 426h3v1h-3zM770 425h2v1h-2zM772 424h2v1h-2zM774 423h2v1h-2zM776 422h2v1h-2zM778 421h1v1h-1zM779 420h2v1h-2zM781 419h1v1h-1zM782 418h1v1h-1zM783 417h2v1h-2zM785 416h1v1h-1zM786 415h1v1h-1zM787 414h2v1h-2zM789 413h1v1h-1zM790 412h1v1h-1zM791 410h1v2h-1zM792 409h1v1h-1zM793 408h1v1h-1zM794 406h1v2h-1zM795 405h1v1h-1zM796 403h1v2h-1zM797 401h1v2h-1zM798 399h1v2h-1zM799 397h1v2h-1zM800 395h1v2h-1zM801 392h1v3h-1zM802 390h1v2h-1zM803 388h1v2h-1zM804 386h1v2h-1zM805 383h1v3h-1zM806 381h1v2h-1zM807 379h1v2h-1zM808 377h1v2h-1zM809 375h1v2h-1zM810 373h1v2h-1zM811 371h1v2h-1zM812 369h1v2h-1zM813 366h1v3h-1zM814 363h1v3h-1zM815 361h1v2h-1zM816 358h1v3h-1zM817 355h1v3h-1zM818 352h1v3h-1zM819 350h1v2h-1zM820 347h1v3h-1zM821 344h1v3h-1zM822 342h1v2h-1zM823 339h1v3h-1zM824 337h1v2h-1zM825 334h1v3h-1zM826 332h1v2h-1zM827 329h1v3h-1zM828 327h1v2h-1zM829 324h1v3h-1zM830 322h1v2h-1zM831 319h1v3h-1zM832 316h1v3h-1zM833 314h1v2h-1zM834 311h1v3h-1zM835 308h1v3h-1zM836 306h1v2h-1zM837 303h1v3h-1zM838 300h1v3h-1zM839 297h1v3h-1zM840 294h1v3h-1zM841 291h1v3h-1zM842 288h1v3h-1zM843 285h1v3h-1zM844 282h1v3h-1zM845 279h1v3h-1zM846 276h1v3h-1zM847 273h1v3h-1zM848 271h1v2h-1zM849 269h1v2h-1zM850 266h1v3h-1zM851 264h1v2h-1zM852 261h1v3h-1zM853 259h1v2h-1zM854 257h1v2h-1zM855 254h1v3h-1zM856 252h1v2h-1zM857 250h1v2h-1zM858 248h1v2h-1zM859 245h1v3h-1zM860 243h1v2h-1zM861 241h1v2h-1zM862 239h1v2h-1zM863 236h1v3h-1zM864 234h1v2h-1zM865 232h1v2h-1zM866 230h1v2h-1zM867 227h1v3h-1zM868 225h1v2h-1zM869 223h1v2h-1zM870 221h1v2h-1zM871 218h1v3h-1zM872 216h1v2h-1zM873 214h1v2h-1zM874 212h1v2h-1zM875 210h1v2h-1zM876 208h1v2h-1zM877 206h1v2h-1zM878 204h1v2h-1zM879 202h1v2h-1zM880 199h1v3h-1zM881 197h1v2h-1zM882 194h1v3h-1zM883 191h1v3h-1zM884 189h1v2h-1zM885 187h1v2h-1zM886 184h1v3h-1zM887 183h1v1h-1zM888 180h1v3h-1zM889 179h1v1h-1zM890 176h1v3h-1zM891 175h1v1h-1zM892 172h1v3h-1zM893 171h1v1h-1zM894 169h1v2h-1zM895 167h1v2h-1zM896 165h1v2h-1zM897 164h1v1h-1zM898 162h1v2h-1zM899 160h1v2h-1zM900 158h1v2h-1zM901 157h1v1h-1zM902 155h1v2h-1zM903 153h1v2h-1zM904 152h1v1h-1zM905 150h1v2h-1zM906 149h1v1h-1zM907 147h1v2h-1zM908 145h1v2h-1zM909 144h1v1h-1zM910 143h1v1h-1zM911 141h1v2h-1zM912 140h1v1h-1zM913 139h1v1h-1zM914 138h1v1h-1zM915 136h1v2h-1zM916 135h1v1h-1zM917 134h1v1h-1zM918 133h1v1h-1zM919 132h1v1h-1zM920 131h1v1h-1zM921 129h1v2h-1zM922 128h1v1h-1zM923 127h1v1h-1zM924 126h1v1h-1zM925 125h1v1h-1zM926 124h2v1h-2zM928 123h1v1h-1zM929 122h1v1h-1zM930 121h1v1h-1zM931 120h2v1h-2zM933 119h2v1h-2zM935 118h3v1h-3zM938 117h2v1h-2zM940 116h3v1h-3zM943 115h2v1h-2zM945 114h3v1h-3zM948 113h3v1h-3zM951 112h3v1h-3zM954 111h2v1h-2zM956 110h2v1h-2zM958 109h2v1h-2zM960 108h2v1h-2zM962 107h1v1h-1zM963 106h2v1h-2zM965 105h1v1h-1zM966 104h2v1h-2zM968 103h1v1h-1zM969 102h2v1h-2zM971 101h2v1h-2zM973 100h3v1h-3zM976 99h3v1h-3zM979 98h4v1h-4zM983 97h2v1h-2zM985 96h3v1h-3zM988 95h3v1h-3zM991 94h5v1h-5zM996 93h5v1h-5zM1001 94h9v1h-9zM1010 95h5v1h-5zM1015 96h2v1h-2zM1017 97h2v1h-2zM1019 98h2v1h-2z" fill="#FF0000"/>
<rect x="5" y="233" width="1" height="24" fill="#FF0000"/>
<rect x="3" y="236" width="5" height="21" fill="#FF0000"/>
<rect x="4" y="237" width="3" height="19" fill="#FF4500"/>
<rect x="13" y="231" width="1" height="26" fill="#32CD32"/>
<rect x="11" y="236" width="5" height="8" fill="#32CD32"/>
<rect x="21" y="238" width="1" height="23" fill="#FF0000"/>
<rect x="19" y="242" width="5" height="2" fill="#FF0000"/>
<rect x="29" y="219" width="1" height="28" fill="#FF0000"/>
<rect x="27" y="221" width="5" height="18" fill="#FF0000"/>
<rect x="28" y="222" width="3" height="16" fill="#FF4500"/>
<rect x="37" y="215" width="1" height="13" fill="#FF0000"/>
<rect x="35" y="218" width="5" height="4" fill="#FF0000"/>
<rect x="36" y="219" width="3" height="2" fill="#FF4500"/>
<rect x="45" y="217" width="1" height="21" fill="#32CD32"/>
<rect x="43" y="217" width="5" height="3" fill="#32CD32"/>
<rect x="53" y="218" width="1" height="33" fill="#32CD32"/>
<rect x="51" y="219" width="5" height="25" fill="#32CD32"/>
<rect x="61" y="225" width="1" height="18" fill="#FF0000"/>
<rect x="59" y="229" width="5" height="14" fill="#FF0000"/>
<rect x="60" y="230" width="3" height="12" fill="#FF4500"/>
<rect x="69" y="222" width="1" height="13" fill="#32CD32"/>
<rect x="67" y="229" width="5" height="4" fill="#32CD32"/>
<rect x="77" y="206" width="1" height="26" fill="#FF0000"/>
<rect x="75" y="212" width="5" height="20" fill="#FF0000"/>
<rect x="76" y="213" width="3" height="18" fill="#FF4500"/>
<rect x="85" y="192" width="1" height="25" fill="#FF0000"/>
<rect x="83" y="195" width="5" height="17" fill="#FF0000"/>
<rect x="84" y="196" width="3" height="15" fill="#FF4500"/>
<rect x="93" y="174" width="1" height="22" fill="#FF0000"/>
<rect x="91" y="176" width="5" height="20" fill="#FF0000"/>
<rect x="92" y="177" width="3" height="18" fill="#FF4500"/>
<rect x="101" y="161" width="1" height="17" fill="#FF0000"/>
<rect x="99" y="169" width="5" height="8" fill="#FF0000"/>
<rect x="100" y="170" width="3" height="6" fill="#FF4500"/>
<rect x="109" y="167" width="1" height="15" fill="#32CD32"/>
<rect x="107" y="169" width="5" height="8" fill="#32CD32"/>
<rect x="117" y="132" width="1" height="44" fill="#FF0000"/>
<rect x="115" y="148" width="5" height="28" fill="#FF0000"/>
<rect x="116" y="149" width="3" height="26" fill="#FF4500"/>
<rect x="125" y="100" width="1" height="49" fill="#FF0000"/>
<rect x="123" y="105" width="5" height="44" fill="#FF0000"/>
<rect x="124" y="106" width="3" height="42" fill="#FF4500"/>
<rect x="133" y="96" width="1" height="12" fill="#FF0000"/>
<rect x="131" y="100" width="5" height="6" fill="#FF0000"/>
<rect x="132" y="101" width="3" height="4" fill="#FF4500"/>
<rect x="141" y="100" width="1" height="20" fill="#32CD32"/>
<rect x="139" y="108" width="5" height="12" fill="#32CD32"/>
<rect x="149" y="110" width="1" height="20" fill="#FF0000"/>
<rect x="147" y="116" width="5" height="4" fill="#FF0000"/>
<rect x="148" y="117" width="3" height="2" fill="#FF4500"/>
<rect x="157" y="100" width="1" height="12" fill="#FF0000"/>
<rect x="155" y="104" width="5" height="6" fill="#FF0000"/>
<rect x="156" y="105" width="3" height="4" fill="#FF4500"/>
<rect x="165" y="100" width="1" height="12" fill="#32CD32"/>
<rect x="163" y="104" width="5" height="6" fill="#32CD32"/>
<rect x="173" y="100" width="1" height="12" fill="#32CD32"/>
<rect x="171" y="104" width="5" height="6" fill="#32CD32"/>
<rect x="181" y="100" width="1" height="71" fill="#32CD32"/>
<rect x="179" y="108" width="5" height="25" fill="#32CD32"/>
<rect x="189" y="110" width="1" height="35" fill="#32CD32"/>
<rect x="187" y="132" width="5" height="6" fill="#32CD32"/>
<rect x="197" y="120" width="1" height="46" fill="#32CD32"/>
<rect x="195" y="136" width="5" height="3" fill="#32CD32"/>
<rect x="205" y="112" width="1" height="47" fill="#FF0000"/>
<rect x="203" y="121" width="5" height="18" fill="#FF0000"/>
<rect x="204" y="122" width="3" height="16" fill="#FF4500"/>
<rect x="213" y="119" width="1" height="46" fill="#32CD32"/>
<rect x="211" y="121" width="5" height="39" fill="#32CD32"/>
<rect x="221" y="119" width="1" height="45" fill="#FF0000"/>
<rect x="219" y="125" width="5" height="35" fill="#FF0000"/>
<rect x="220" y="126" width="3" height="33" fill="#FF4500"/>
<rect x="229" y="113" width="1" height="24" fill="#32CD32"/>
<rect x="227" y="124" width="5" height="8" fill="#32CD32"/>
<rect x="237" y="120" width="1" height="17" fill="#FF0000"/>
<rect x="235" y="130" width="5" height="2" fill="#FF0000"/>
<rect x="245" y="99" width="1" height="36" fill="#FF0000"/>
<rect x="243" y="105" width="5" height="25" fill="#FF0000"/>
<rect x="244" y="106" width="3" height="23" fill="#FF4500"/>
<rect x="253" y="85" width="1" height="29" fill="#32CD32"/>
<rect x="251" y="105" width="5" height="8" fill="#32CD32"/>
<rect x="261" y="98" width="1" height="37" fill="#FF0000"/>
<rect x="259" y="111" width="5" height="2" fill="#FF0000"/>
<rect x="269" y="104" width="1" height="22" fill="#32CD32"/>
<rect x="267" y="111" width="5" height="9" fill="#32CD32"/>
<rect x="277" y="109" width="1" height="26" fill="#FF0000"/>
<rect x="275" y="119" width="5" height="2" fill="#FF0000"/>
<rect x="285" y="103" width="1" height="19" fill="#FF0000"/>
<rect x="283" y="104" width="5" height="16" fill="#FF0000"/>
<rect x="284" y="105" width="3" height="14" fill="#FF4500"/>
<rect x="293" y="95" width="1" height="27" fill="#32CD32"/>
<rect x="291" y="104" width="5" height="10" fill="#32CD32"/>
<rect x="301" y="108" width="1" height="10" fill="#FF0000"/>
<rect x="299" y="108" width="5" height="7" fill="#FF0000"/>
<rect x="300" y="109" width="3" height="5" fill="#FF4500"/>
<rect x="309" y="101" width="1" height="16" fill="#FF0000"/>
<rect x="307" y="104" width="5" height="6" fill="#FF0000"/>
<rect x="308" y="105" width="3" height="4" fill="#FF4500"/>
<rect x="317" y="99" width="1" height="13" fill="#FF0000"/>
<rect x="315" y="102" width="5" height="3" fill="#FF0000"/>
<rect x="316" y="103" width="3" height="1" fill="#FF4500"/>
<rect x="325" y="93" width="1" height="13" fill="#32CD32"/>
<rect x="323" y="102" width="5" height="4" fill="#32CD32"/>
<rect x="333" y="102" width="1" height="19" fill="#32CD32"/>
<rect x="331" y="105" width="5" height="15" fill="#32CD32"/>
<rect x="341" y="109" width="1" height="44" fill="#32CD32"/>
<rect x="339" y="119" width="5" height="29" fill="#32CD32"/>
<rect x="349" y="139" width="1" height="66" fill="#32CD32"/>
<rect x="347" y="147" width="5" height="29" fill="#32CD32"/>
<rect x="357" y="163" width="1" height="24" fill="#FF0000"/>
<rect x="355" y="168" width="5" height="7" fill="#FF0000"/>
<rect x="356" y="169" width="3" height="5" fill="#FF4500"/>
<rect x="365" y="141" width="1" height="35" fill="#FF0000"/>
<rect x="363" y="153" width="5" height="16" fill="#FF0000"/>
<rect x="364" y="154" width="3" height="14" fill="#FF4500"/>
<rect x="373" y="135" width="1" height="22" fill="#FF0000"/>
<rect x="371" y="138" width="5" height="16" fill="#FF0000"/>
<rect x="372" y="139" width="3" height="14" fill="#FF4500"/>
<rect x="381" y="126" width="1" height="58" fill="#32CD32"/>
<rect x="379" y="138" width="5" height="35" fill="#32CD32"/>
<rect x="389" y="155" width="1" height="21" fill="#FF0000"/>
<rect x="387" y="158" width="5" height="15" fill="#FF0000"/>
<rect x="388" y="159" width="3" height="13" fill="#FF4500"/>
<rect x="397" y="153" width="1" height="28" fill="#32CD32"/>
<rect x="395" y="158" width="5" height="21" fill="#32CD32"/>
<rect x="405" y="176" width="1" height="18" fill="#32CD32"/>
<rect x="403" y="178" width="5" height="8" fill="#32CD32"/>
<rect x="413" y="182" width="1" height="22" fill="#32CD32"/>
<rect x="411" y="185" width="5" height="11" fill="#32CD32"/>
<rect x="421" y="195" width="1" height="14" fill="#32CD32"/>
<rect x="419" y="195" width="5" height="2" fill="#32CD32"/>
<rect x="429" y="197" width="1" height="45" fill="#32CD32"/>
<rect x="427" y="197" width="5" height="36" fill="#32CD32"/>
<rect x="437" y="213" width="1" height="22" fill="#FF0000"/>
<rect x="435" y="226" width="5" height="7" fill="#FF0000"/>
<rect x="436" y="227" width="3" height="5" fill="#FF4500"/>
<rect x="445" y="226" width="1" height="25" fill="#32CD32"/>
<rect x="443" y="227" width="5" height="23" fill="#32CD32"/>
<rect x="453" y="249" width="1" height="56" fill="#32CD32"/>
<rect x="451" y="249" width="5" height="46" fill="#32CD32"/>
<rect x="461" y="292" width="1" height="71" fill="#32CD32"/>
<rect x="459" y="295" width="5" height="35" fill="#32CD32"/>
<rect x="469" y="290" width="1" height="40" fill="#FF0000"/>
<rect x="467" y="303" width="5" height="27" fill="#FF0000"/>
<rect x="468" y="304" width="3" height="25" fill="#FF4500"/>
<rect x="477" y="271" width="1" height="33" fill="#FF0000"/>
<rect x="475" y="284" width="5" height="20" fill="#FF0000"/>
<rect x="476" y="285" width="3" height="18" fill="#FF4500"/>
<rect x="485" y="229" width="1" height="59" fill="#FF0000"/>
<rect x="483" y="247" width="5" height="41" fill="#FF0000"/>
<rect x="484" y="248" width="3" height="39" fill="#FF4500"/>
<rect x="493" y="222" width="1" height="31" fill="#FF0000"/>
<rect x="491" y="245" width="5" height="4" fill="#FF0000"/>
<rect x="492" y="246" width="3" height="2" fill="#FF4500"/>
<rect x="501" y="242" width="1" height="56" fill="#32CD32"/>
<rect x="499" y="245" width="5" height="47" fill="#32CD32"/>
<rect x="509" y="251" width="1" height="43" fill="#FF0000"/>
<rect x="507" y="260" width="5" height="32" fill="#FF0000"/>
<rect x="508" y="261" width="3" height="30" fill="#FF4500"/>
<rect x="517" y="236" width="1" height="24" fill="#FF0000"/>
<rect x="515" y="247" width="5" height="13" fill="#FF0000"/>
<rect x="516" y="248" width="3" height="11" fill="#FF4500"/>
<rect x="525" y="244" width="1" height="38" fill="#32CD32"/>
<rect x="523" y="247" width="5" height="6" fill="#32CD32"/>
<rect x="533" y="238" width="1" height="26" fill="#FF0000"/>
<rect x="531" y="238" width="5" height="14" fill="#FF0000"/>
<rect x="532" y="239" width="3" height="12" fill="#FF4500"/>
<rect x="541" y="238" width="1" height="25" fill="#32CD32"/>
<rect x="539" y="238" width="5" height="16" fill="#32CD32"/>
<rect x="549" y="244" width="1" height="48" fill="#32CD32"/>
<rect x="547" y="254" width="5" height="27" fill="#32CD32"/>
<rect x="557" y="258" width="1" height="23" fill="#FF0000"/>
<rect x="555" y="276" width="5" height="5" fill="#FF0000"/>
<rect x="556" y="277" width="3" height="3" fill="#FF4500"/>
<rect x="565" y="257" width="1" height="15" fill="#FF0000"/>
<rect x="563" y="260" width="5" height="10" fill="#FF0000"/>
<rect x="564" y="261" width="3" height="8" fill="#FF4500"/>
<rect x="573" y="255" width="1" height="19" fill="#32CD32"/>
<rect x="571" y="260" width="5" height="10" fill="#32CD32"/>
<rect x="581" y="263" width="1" height="42" fill="#32CD32"/>
<rect x="579" y="270" width="5" height="25" fill="#32CD32"/>
<rect x="589" y="294" width="1" height="32" fill="#32CD32"/>
<rect x="587" y="294" width="5" height="30" fill="#32CD32"/>
<rect x="597" y="320" width="1" height="26" fill="#32CD32"/>
<rect x="595" y="323" width="5" height="20" fill="#32CD32"/>
<rect x="605" y="305" width="1" height="51" fill="#32CD32"/>
<rect x="603" y="342" width="5" height="13" fill="#32CD32"/>
<rect x="613" y="353" width="1" height="42" fill="#32CD32"/>
<rect x="611" y="354" width="5" height="34" fill="#32CD32"/>
<rect x="621" y="379" width="1" height="68" fill="#32CD32"/>
<rect x="619" y="388" width="5" height="42" fill="#32CD32"/>
<rect x="629" y="414" width="1" height="44" fill="#32CD32"/>
<rect x="627" y="430" width="5" height="8" fill="#32CD32"/>
<rect x="637" y="400" width="1" height="70" fill="#FF0000"/>
<rect x="635" y="435" width="5" height="3" fill="#FF0000"/>
<rect x="636" y="436" width="3" height="1" fill="#FF4500"/>
<rect x="645" y="415" width="1" height="47" fill="#32CD32"/>
<rect x="643" y="435" width="5" height="10" fill="#32CD32"/>
<rect x="653" y="413" width="1" height="37" fill="#FF0000"/>
<rect x="651" y="428" width="5" height="16" fill="#FF0000"/>
<rect x="652" y="429" width="3" height="14" fill="#FF4500"/>
<rect x="661" y="405" width="1" height="47" fill="#FF0000"/>
<rect x="659" y="427" width="5" height="2" fill="#FF0000"/>
<rect x="669" y="414" width="1" height="27" fill="#32CD32"/>
<rect x="667" y="427" width="5" height="3" fill="#32CD32"/>
<rect x="677" y="424" width="1" height="21" fill="#FF0000"/>
<rect x="675" y="429" width="5" height="1" fill="#FF0000"/>
<rect x="685" y="421" width="1" height="22" fill="#32CD32"/>
<rect x="683" y="428" width="5" height="10" fill="#32CD32"/>
<rect x="693" y="435" width="1" height="46" fill="#32CD32"/>
<rect x="691" y="436" width="5" height="23" fill="#32CD32"/>
<rect x="701" y="431" width="1" height="39" fill="#FF0000"/>
<rect x="699" y="436" width="5" height="24" fill="#FF0000"/>
<rect x="700" y="437" width="3" height="22" fill="#FF4500"/>
<rect x="709" y="429" width="1" height="37" fill="#32CD32"/>
<rect x="707" y="436" width="5" height="24" fill="#32CD32"/>
<rect x="717" y="447" width="1" height="22" fill="#FF0000"/>
<rect x="715" y="455" width="5" height="5" fill="#FF0000"/>
<rect x="716" y="456" width="3" height="3" fill="#FF4500"/>
<rect x="725" y="420" width="1" height="36" fill="#FF0000"/>
<rect x="723" y="432" width="5" height="23" fill="#FF0000"/>
<rect x="724" y="433" width="3" height="21" fill="#FF4500"/>
<rect x="733" y="399" width="1" height="42" fill="#FF0000"/>
<rect x="731" y="411" width="5" height="21" fill="#FF0000"/>
<rect x="732" y="412" width="3" height="19" fill="#FF4500"/>
<rect x="741" y="396" width="1" height="37" fill="#32CD32"/>
<rect x="739" y="411" width="5" height="14" fill="#32CD32"/>
<rect x="749" y="401" width="1" height="30" fill="#FF0000"/>
<rect x="747" y="408" width="5" height="17" fill="#FF0000"/>
<rect x="748" y="409" width="3" height="15" fill="#FF4500"/>
<rect x="757" y="393" width="1" height="24" fill="#FF0000"/>
<rect x="755" y="393" width="5" height="15" fill="#FF0000"/>
<rect x="756" y="394" width="3" height="13" fill="#FF4500"/>
<rect x="765" y="369" width="1" height="30" fill="#FF0000"/>
<rect x="763" y="379" width="5" height="15" fill="#FF0000"/>
<rect x="764" y="380" width="3" height="13" fill="#FF4500"/>
<rect x="773" y="376" width="1" height="25" fill="#32CD32"/>
<rect x="771" y="379" width="5" height="9" fill="#32CD32"/>
<rect x="781" y="364" width="1" height="33" fill="#FF0000"/>
<rect x="779" y="366" width="5" height="21" fill="#FF0000"/>
<rect x="780" y="367" width="3" height="19" fill="#FF4500"/>
<rect x="789" y="320" width="1" height="47" fill="#FF0000"/>
<rect x="787" y="324" width="5" height="43" fill="#FF0000"/>
<rect x="788" y="325" width="3" height="41" fill="#FF4500"/>
<rect x="797" y="244" width="1" height="77" fill="#FF0000"/>
<rect x="795" y="253" width="5" height="67" fill="#FF0000"/>
<rect x="796" y="254" width="3" height="65" fill="#FF4500"/>
<rect x="805" y="198" width="1" height="61" fill="#FF0000"/>
<rect x="803" y="236" width="5" height="18" fill="#FF0000"/>
<rect x="804" y="237" width="3" height="16" fill="#FF4500"/>
<rect x="813" y="200" width="1" height="74" fill="#FF0000"/>
<rect x="811" y="210" width="5" height="27" fill="#FF0000"/>
<rect x="812" y="211" width="3" height="25" fill="#FF4500"/>
<rect x="821" y="139" width="1" height="88" fill="#FF0000"/>
<rect x="819" y="172" width="5" height="39" fill="#FF0000"/>
<rect x="820" y="173" width="3" height="37" fill="#FF4500"/>
<rect x="829" y="128" width="1" height="68" fill="#FF0000"/>
<rect x="827" y="145" width="5" height="30" fill="#FF0000"/>
<rect x="828" y="146" width="3" height="28" fill="#FF4500"/>
<rect x="837" y="96" width="1" height="79" fill="#FF0000"/>
<rect x="835" y="134" width="5" height="12" fill="#FF0000"/>
<rect x="836" y="135" width="3" height="10" fill="#FF4500"/>
<rect x="845" y="117" width="1" height="36" fill="#FF0000"/>
<rect x="843" y="121" width="5" height="13" fill="#FF0000"/>
<rect x="844" y="122" width="3" height="11" fill="#FF4500"/>
<rect x="853" y="70" width="1" height="72" fill="#32CD32"/>
<rect x="851" y="121" width="5" height="21" fill="#32CD32"/>
<rect x="861" y="106" width="1" height="56" fill="#32CD32"/>
<rect x="859" y="140" width="5" height="19" fill="#32CD32"/>
<rect x="869" y="117" width="1" height="55" fill="#FF0000"/>
<rect x="867" y="135" width="5" height="24" fill="#FF0000"/>
<rect x="868" y="136" width="3" height="22" fill="#FF4500"/>
<rect x="877" y="118" width="1" height="31" fill="#FF0000"/>
<rect x="875" y="121" width="5" height="11" fill="#FF0000"/>
<rect x="876" y="122" width="3" height="9" fill="#FF4500"/>
<rect x="885" y="110" width="1" height="39" fill="#FF0000"/>
<rect x="883" y="117" width="5" height="6" fill="#FF0000"/>
<rect x="884" y="118" width="3" height="4" fill="#FF4500"/>
<rect x="893" y="108" width="1" height="40" fill="#32CD32"/>
<rect x="891" y="115" width="5" height="19" fill="#32CD32"/>
<rect x="901" y="110" width="1" height="23" fill="#FF0000"/>
<rect x="899" y="117" width="5" height="15" fill="#FF0000"/>
<rect x="900" y="118" width="3" height="13" fill="#FF4500"/>
<rect x="909" y="94" width="1" height="24" fill="#FF0000"/>
<rect x="907" y="105" width="5" height="10" fill="#FF0000"/>
<rect x="908" y="106" width="3" height="8" fill="#FF4500"/>
<rect x="917" y="79" width="1" height="44" fill="#FF0000"/>
<rect x="915" y="91" width="5" height="15" fill="#FF0000"/>
<rect x="916" y="92" width="3" height="13" fill="#FF4500"/>
<rect x="925" y="74" width="1" height="28" fill="#FF0000"/>
<rect x="923" y="81" width="5" height="10" fill="#FF0000"/>
<rect x="924" y="82" width="3" height="8" fill="#FF4500"/>
<rect x="933" y="60" width="1" height="28" fill="#FF0000"/>
<rect x="931" y="74" width="5" height="8" fill="#FF0000"/>
<rect x="932" y="75" width="3" height="6" fill="#FF4500"/>
<rect x="941" y="58" width="1" height="74" fill="#32CD32"/>
<rect x="939" y="73" width="5" height="36" fill="#32CD32"/>
<rect x="949" y="73" width="1" height="36" fill="#FF0000"/>
<rect x="947" y="77" width="5" height="28" fill="#FF0000"/>
<rect x="948" y="78" width="3" height="26" fill="#FF4500"/>
<rect x="957" y="64" width="1" height="35" fill="#32CD32"/>
<rect x="955" y="76" width="5" height="17" fill="#32CD32"/>
<rect x="965" y="75" width="1" height="19" fill="#FF0000"/>
<rect x="963" y="78" width="5" height="11" fill="#FF0000"/>
<rect x="964" y="79" width="3" height="9" fill="#FF4500"/>
<rect x="973" y="71" width="1" height="17" fill="#FF0000"/>
<rect x="971" y="76" width="5" height="5" fill="#FF0000"/>
<rect x="972" y="77" width="3" height="3" fill="#FF4500"/>
<rect x="981" y="89" width="1" height="58" fill="#32CD32"/>
<rect x="979" y="93" width="5" height="21" fill="#32CD32"/>
<rect x="989" y="92" width="1" height="36" fill="#FF0000"/>
<rect x="987" y="102" width="5" height="12" fill="#FF0000"/>
<rect x="988" y="103" width="3" height="10" fill="#FF4500"/>
<rect x="997" y="93" width="1" height="22" fill="#FF0000"/>
<rect x="995" y="93" width="5" height="10" fill="#FF0000"/>
<rect x="996" y="94" width="3" height="8" fill="#FF4500"/>
<rect x="1005" y="92" width="1" height="34" fill="#32CD32"/>
<rect x="1003" y="92" width="5" height="24" fill="#32CD32"/>
<rect x="1013" y="107" width="1" height="21" fill="#32CD32"/>
<rect x="1011" y="115" width="5" height="10" fill="#32CD32"/>
<rect x="1021" y="122" width="1" height="47" fill="#32CD32"/>
<rect x="1019" y="125" width="5" height="43" fill="#32CD32"/>
<rect x="954" y="128" width="154" height="2" fill="#F43131"/>
<rect x="961" y="147" width="142" height="1" fill="#9DC928"/>
</g>
<g shape-rendering="crispEdges">
<rect x="4" y="31" width="1293" height="1" fill="#000"/>
<rect x="4" y="491" width="1293" height="1" fill="#000"/>
<rect x="4" y="31" width="1" height="461" fill="#000"/>
<rect x="1296" y="31" width="1" height="461" fill="#000"/>
<rect x="4" y="493" width="1293" height="1" fill="#000"/>
<rect x="4" y="581" width="1293" height="1" fill="#000"/>
<rect x="4" y="493" width="1" height="89" fill="#000"/>
<rect x="1296" y="493" width="1" height="89" fill="#000"/>
<rect x="1297" y="59" width="2" height="1" fill="#000"/>
<rect x="1297" y="92" width="2" height="1" fill="#000"/>
<rect x="1297" y="125" width="2" height="1" fill="#000"/>
<rect x="1297" y="158" width="2" height="1" fill="#000"/>
<rect x="1297" y="191" width="2" height="1" fill="#000"/>
<rect x="1297" y="224" width="2" height="1" fill="#000"/>
<rect x="1297" y="257" width="2" height="1" fill="#000"/>
<rect x="1297" y="290" width="2" height="1" fill="#000"/>
<rect x="1297" y="323" width="2" height="1" fill="#000"/>
<rect x="1297" y="356" width="2" height="1" fill="#000"/>
<rect x="1297" y="389" width="2" height="1" fill="#000"/>
<rect x="1297" y="422" width="2" height="1" fill="#000"/>
<rect x="1297" y="455" width="2" height="1" fill="#000"/>
<rect x="1297" y="488" width="2" height="1" fill="#000"/>
<rect x="1297" y="520" width="2" height="1" fill="#000"/>
<rect x="1297" y="555" width="2" height="1" fill="#000"/>
<rect x="1297" y="493" width="1" height="1" fill="#000"/>
<rect x="1297" y="581" width="1" height="1" fill="#000"/>
<rect x="5" y="582" width="1" height="3" fill="#000"/>
<rect x="69" y="582" width="1" height="3" fill="#000"/>
<rect x="133" y="582" width="1" height="3" fill="#000"/>
<rect x="197" y="582" width="1" height="3" fill="#000"/>
<rect x="261" y="582" width="1" height="3" fill="#000"/>
<rect x="325" y="582" width="1" height="3" fill="#000"/>
<rect x="389" y="582" width="1" height="3" fill="#000"/>
<rect x="453" y="582" width="1" height="3" fill="#000"/>
<rect x="517" y="582" width="1" height="3" fill="#000"/>
<rect x="581" y="582" width="1" height="3" fill="#000"/>
<rect x="645" y="582" width="1" height="3" fill="#000"/>
<rect x="709" y="582" width="1" height="3" fill="#000"/>
<rect x="773" y="582" width="1" height="3" fill="#000"/>
<rect x="837" y="582" width="1" height="3" fill="#000"/>
<rect x="901" y="582" width="1" height="3" fill="#000"/>
<rect x="965" y="582" width="1" height="3" fill="#000"/>
<line x1="5" y1="520.5" x2="1296" y2="520.5" stroke="#C0C0C0" stroke-width="1" stroke-dasharray="3,3" stroke-dashoffset="5"/>
<line x1="5" y1="555.5" x2="1296" y2="555.5" stroke="#C0C0C0" stroke-width="1" stroke-dasharray="3,3" stroke-dashoffset="5"/>
</g>
<g clip-path="url(#cr)" shape-rendering="crispEdges">
<path d="M5 528h2v1h-2zM7 529h4v1h-4zM11 530h12v1h-12zM23 529h1v1h-1zM24 528h3v1h-3zM27 527h1v1h-1zM28 526h18v1h-18zM46 527h1v1h-1zM47 528h1v1h-1zM48 529h1v1h-1zM49 530h2v1h-2zM51 531h1v1h-1zM52 532h1v1h-1zM53 533h2v1h-2zM55 532h3v1h-3zM58 531h2v1h-2zM60 530h6v1h-6zM66 531h4v1h-4zM70 530h3v1h-3zM73 529h1v1h-1zM74 528h3v1h-3zM77 527h2v1h-2zM79 526h3v1h-3zM82 525h2v1h-2zM84 524h4v1h-4zM88 523h3v1h-3zM91 522h7v1h-7zM98 521h5v1h-5zM103 522h5v1h-5zM108 523h2v1h-2zM110 522h3v1h-3zM113 521h1v1h-1zM114 520h3v1h-3zM117 519h1v1h-1zM118 518h2v1h-2zM120 517h1v1h-1zM121 516h2v1h-2zM123 515h2v1h-2zM125 514h3v1h-3zM128 513h3v1h-3zM131 512h3v1h-3zM134 513h1v2h-1zM135 515h1v1h-1zM136 516h1v1h-1zM137 517h1v2h-1zM138 519h1v1h-1zM139 520h1v1h-1zM140 521h1v2h-1zM141 523h2v1h-2zM143 522h3v1h-3zM146 521h2v1h-2zM148 520h4v1h-4zM152 519h3v1h-3zM155 518h7v1h-7zM162 519h7v1h-7zM169 518h5v1h-5zM174 519h1v2h-1zM175 521h1v2h-1zM176 523h1v2h-1zM177 525h1v1h-1zM178 526h1v2h-1zM179 528h1v2h-1zM180 530h1v2h-1zM181 532h5v1h-5zM186 533h13v1h-13zM199 532h5v1h-5zM204 531h2v1h-2zM206 532h2v1h-2zM208 533h1v1h-1zM209 534h1v1h-1zM210 535h1v1h-1zM211 536h2v1h-2zM213 537h1v1h-1zM214 536h2v1h-2zM216 535h1v1h-1zM217 534h2v1h-2zM219 533h2v1h-2zM221 532h3v1h-3zM224 533h3v1h-3zM227 534h7v1h-7zM234 533h5v1h-5zM239 532h3v1h-3zM242 531h2v1h-2zM244 530h6v1h-6zM250 531h13v1h-13zM263 532h5v1h-5zM268 533h11v1h-11zM279 532h3v1h-3zM282 531h2v1h-2zM284 530h4v1h-4zM288 531h3v1h-3zM291 532h7v1h-7zM298 531h15v1h-15zM313 530h14v1h-14zM327 531h1v1h-1zM328 532h3v1h-3zM331 533h1v1h-1zM332 534h2v1h-2zM334 535h1v1h-1zM335 536h1v1h-1zM336 537h1v1h-1zM337 538h1v1h-1zM338 539h1v1h-1zM339 540h1v1h-1zM340 541h1v1h-1zM341 542h1v1h-1zM342 543h2v1h-2zM344 544h2v1h-2zM346 545h1v1h-1zM347 546h2v1h-2zM349 547h2v1h-2zM351 546h5v1h-5zM356 545h2v1h-2zM358 544h3v1h-3zM361 543h1v1h-1zM362 542h3v1h-3zM365 541h2v1h-2zM367 540h3v1h-3zM370 539h2v1h-2zM372 538h2v1h-2zM374 539h1v1h-1zM375 540h1v1h-1zM376 541h1v1h-1zM377 542h2v1h-2zM379 543h1v1h-1zM380 544h1v1h-1zM381 545h1v1h-1zM382 544h3v1h-3zM385 543h1v1h-1zM386 542h3v1h-3zM389 541h1v1h-1zM390 542h3v1h-3zM393 543h1v1h-1zM394 544h3v1h-3zM397 545h4v1h-4zM401 546h7v1h-7zM408 547h3v1h-3zM411 548h11v1h-11zM422 549h2v1h-2zM424 550h2v1h-2zM426 551h1v1h-1zM427 552h2v1h-2zM429 553h4v1h-4zM433 552h6v1h-6zM439 553h2v1h-2zM441 554h3v1h-3zM444 555h2v1h-2zM446 556h3v1h-3zM449 557h1v1h-1zM450 558h3v1h-3zM453 559h2v1h-2zM455 560h3v1h-3zM458 561h2v1h-2zM460 562h2v1h-2zM462 561h1v1h-1zM463 560h2v1h-2zM465 559h1v1h-1zM466 558h2v1h-2zM468 557h1v1h-1zM469 556h1v1h-1zM470 555h2v1h-2zM472 554h2v1h-2zM474 553h1v1h-1zM475 552h2v1h-2zM477 551h1v1h-1zM478 550h1v1h-1zM479 549h1v1h-1zM480 548h2v1h-2zM482 547h1v1h-1zM483 546h1v1h-1zM484 545h1v1h-1zM485 544h9v1h-9zM494 545h2v1h-2zM496 546h2v1h-2zM498 547h1v1h-1zM499 548h2v1h-2zM501 549h1v1h-1zM502 548h2v1h-2zM504 547h1v1h-1zM505 546h2v1h-2zM507 545h2v1h-2zM509 544h3v1h-3zM512 543h3v1h-3zM515 542h13v1h-13zM528 541h3v1h-3zM531 540h7v1h-7zM538 541h4v1h-4zM542 542h2v1h-2zM544 543h1v1h-1zM545 544h2v1h-2zM547 545h2v1h-2zM549 546h5v1h-5zM554 545h5v1h-5zM559 544h3v1h-3zM562 543h2v1h-2zM564 542h4v1h-4zM568 543h3v1h-3zM571 544h4v1h-4zM575 545h2v1h-2zM577 546h3v1h-3zM580 547h2v1h-2zM582 548h3v1h-3zM585 549h1v1h-1zM586 550h3v1h-3zM589 551h2v1h-2zM591 552h5v1h-5zM596 553h5v1h-5zM601 554h6v1h-6zM607 555h2v1h-2zM609 556h3v1h-3zM612 557h3v1h-3zM615 558h5v1h-5zM620 559h3v1h-3zM623 560h5v1h-5zM628 561h18v1h-18zM646 560h3v1h-3zM649 559h1v1h-1zM650 558h3v1h-3zM653 557h28v1h-28zM681 558h7v1h-7zM688 559h3v1h-3zM691 560h3v1h-3zM694 559h1v1h-1zM695 558h1v1h-1zM696 557h1v1h-1zM697 556h2v1h-2zM699 555h1v1h-1zM700 554h1v1h-1zM701 553h2v1h-2zM703 554h3v1h-3zM706 555h2v1h-2zM708 556h6v1h-6zM714 555h4v1h-4zM718 554h2v1h-2zM720 553h1v1h-1zM721 552h2v1h-2zM723 551h2v1h-2zM725 550h1v1h-1zM726 549h1v1h-1zM727 548h2v1h-2zM729 547h1v1h-1zM730 546h2v1h-2zM732 545h1v1h-1zM733 544h3v1h-3zM736 545h3v1h-3zM739 546h4v1h-4zM743 545h2v1h-2zM745 544h3v1h-3zM748 543h3v1h-3zM751 542h3v1h-3zM754 541h2v1h-2zM756 540h3v1h-3zM759 539h1v1h-1zM760 538h3v1h-3zM763 537h1v1h-1zM764 536h4v1h-4zM768 537h3v1h-3zM771 538h3v1h-3zM774 537h2v1h-2zM776 536h2v1h-2zM778 535h1v1h-1zM779 534h2v1h-2zM781 533h1v1h-1zM782 532h2v1h-2zM784 531h1v1h-1zM785 530h1v1h-1zM786 529h1v1h-1zM787 528h2v1h-2zM789 527h1v1h-1zM790 526h1v1h-1zM791 525h1v1h-1zM792 524h1v1h-1zM793 523h1v1h-1zM794 522h1v1h-1zM795 521h1v1h-1zM796 520h1v1h-1zM797 519h4v1h-4zM801 518h7v1h-7zM808 517h3v1h-3zM811 516h4v1h-4zM815 515h2v1h-2zM817 514h3v1h-3zM820 513h3v1h-3zM823 512h5v1h-5zM828 511h13v1h-13zM841 510h5v1h-5zM846 511h2v1h-2zM848 512h2v1h-2zM850 513h1v1h-1zM851 514h2v1h-2zM853 515h1v1h-1zM854 516h3v1h-3zM857 517h1v1h-1zM858 518h3v1h-3zM861 519h2v1h-2zM863 518h5v1h-5zM868 517h5v1h-5zM873 516h9v1h-9zM882 515h4v1h-4zM886 516h3v1h-3zM889 517h1v1h-1zM890 518h3v1h-3zM893 519h4v1h-4zM897 518h9v1h-9zM906 517h5v1h-5zM911 516h5v1h-5zM916 515h13v1h-13zM929 514h5v1h-5zM934 515h1v1h-1zM935 516h1v1h-1zM936 517h1v1h-1zM937 518h1v2h-1zM938 520h1v1h-1zM939 521h1v1h-1zM940 522h1v1h-1zM941 523h2v1h-2zM943 522h3v1h-3zM946 521h2v1h-2zM948 520h3v1h-3zM951 521h2v1h-2zM953 522h3v1h-3zM956 523h5v1h-5zM961 522h9v1h-9zM970 521h4v1h-4zM974 522h1v1h-1zM975 523h1v1h-1zM976 524h1v1h-1zM977 525h1v2h-1zM978 527h1v1h-1zM979 528h1v1h-1zM980 529h1v1h-1zM981 530h3v1h-3zM984 529h3v1h-3zM987 528h7v1h-7zM994 527h4v1h-4zM998 528h2v1h-2zM1000 529h1v1h-1zM1001 530h2v1h-2zM1003 531h2v1h-2zM1005 532h3v1h-3zM1008 533h3v1h-3zM1011 534h3v1h-3zM1014 535h1v1h-1zM1015 536h2v1h-2zM1017 537h1v1h-1zM1018 538h2v1h-2zM1020 539h1v1h-1zM1021 540h1v1h-1z" fill="#1E90FF"/>
</g>
</svg>

<div class="ax" style="left:1302px;top:53px">6.97795</div>
<div class="ax" style="left:1302px;top:86px">6.92020</div>
<div class="ax" style="left:1302px;top:119px">6.86070</div>
<div class="ax" style="left:1302px;top:152px">6.80295</div>
<div class="ax" style="left:1302px;top:185px">6.74520</div>
<div class="ax" style="left:1302px;top:218px">6.68745</div>
<div class="ax" style="left:1302px;top:251px">6.62795</div>
<div class="ax" style="left:1302px;top:284px">6.57020</div>
<div class="ax" style="left:1302px;top:317px">6.51245</div>
<div class="ax" style="left:1302px;top:350px">6.45470</div>
<div class="ax" style="left:1302px;top:383px">6.39520</div>
<div class="ax" style="left:1302px;top:416px">6.33745</div>
<div class="ax" style="left:1302px;top:449px">6.27970</div>
<div class="ax" style="left:1302px;top:482px">6.22195</div>
<div class="ax" style="left:1300px;top:494px">100</div>
<div class="ax" style="left:1300px;top:514px">70</div>
<div class="ax" style="left:1300px;top:549px">30</div>
<div class="ax" style="left:1300px;top:568px">0</div>
<div class="ax" style="left:4px;top:584px">31 Jul 2016</div>
<div class="ax" style="left:68px;top:584px">25 Sep 2016</div>
<div class="ax" style="left:132px;top:584px">20 Nov 2016</div>
<div class="ax" style="left:196px;top:584px">15 Jan 2017</div>
<div class="ax" style="left:260px;top:584px">12 Mar 2017</div>
<div class="ax" style="left:324px;top:584px">7 May 2017</div>
<div class="ax" style="left:388px;top:584px">2 Jul 2017</div>
<div class="ax" style="left:452px;top:584px">27 Aug 2017</div>
<div class="ax" style="left:516px;top:584px">22 Oct 2017</div>
<div class="ax" style="left:580px;top:584px">17 Dec 2017</div>
<div class="ax" style="left:644px;top:584px">11 Feb 2018</div>
<div class="ax" style="left:708px;top:584px">8 Apr 2018</div>
<div class="ax" style="left:772px;top:584px">3 Jun 2018</div>
<div class="ax" style="left:836px;top:584px">29 Jul 2018</div>
<div class="ax" style="left:900px;top:584px">23 Sep 2018</div>
<div class="ax" style="left:964px;top:584px">18 Nov 2018</div>
<div class="abs" style="left:1298px;top:162px;width:41px;height:11px;background:#000"></div>
<div class="ax" style="left:1302px;top:161px;color:#fff;-webkit-text-stroke-color:#fff">6.78763</div>

<!-- title -->
<svg class="abs" style="left:8px;top:36px" width="10" height="8" viewBox="0 0 10 8"><path d="M0 6 L7 6 L3.5 2 Z" fill="#000"/></svg>
<div class="ax" style="left:20.4px;top:33px;letter-spacing:0.28px">USDCNH,Weekly</div>
<div class="ax" style="left:100.4px;top:33px;word-spacing:0.9px">6.86186 6.86750 6.78603 6.78763</div>
<div class="ax" style="left:9px;top:496px;letter-spacing:0.03px">RSI(14) 45.7308</div>

<!-- trade panel -->
<div class="abs" style="left:5px;top:48px;width:224px;height:69px;background:#fff"></div>
<div class="abs" style="left:8px;top:51px;width:52px;height:25px;background:linear-gradient(#5C5CFF,#3838E8);border:1px solid #1818C8;border-bottom:none;box-sizing:border-box"></div>
<div class="abs" style="left:8px;top:75px;width:109px;height:40px;background:linear-gradient(#2424DE,#0000A6);border:1px solid #1414BE;border-top:none;box-sizing:border-box"></div>
<div class="abs" style="left:60px;top:75px;width:57px;height:1px;background:#1414C4"></div>
<div class="abs" style="left:12px;top:74px;width:44px;height:1px;background:#1C1CC4"></div>
<div class="abs" style="left:12px;top:75px;width:44px;height:1px;background:#7878F2"></div>
<div class="abs" style="left:175px;top:51px;width:52px;height:25px;background:linear-gradient(#5C5CFF,#3838E8);border:1px solid #1818C8;border-bottom:none;box-sizing:border-box"></div>
<div class="abs" style="left:119px;top:75px;width:108px;height:40px;background:linear-gradient(#2424DE,#0000A6);border:1px solid #1414BE;border-top:none;box-sizing:border-box"></div>
<div class="abs" style="left:119px;top:75px;width:57px;height:1px;background:#1414C4"></div>
<div class="abs" style="left:179px;top:74px;width:44px;height:1px;background:#1C1CC4"></div>
<div class="abs" style="left:179px;top:75px;width:44px;height:1px;background:#7878F2"></div>
<div class="abs" style="left:62px;top:51px;width:111px;height:22px;background:#fff;border:1px solid #ABADB3;box-sizing:border-box"></div>
<div class="abs" style="left:64px;top:53px;width:18px;height:18px;background:linear-gradient(#F2F2F2 0%,#E4E4E4 36%,#D7D7D7 37%,#CECECE 100%)"></div>
<div class="abs" style="left:83px;top:52px;width:1px;height:20px;background:#ABADB3"></div>
<div class="abs" style="left:153px;top:53px;width:18px;height:18px;background:linear-gradient(#F2F2F2 0%,#E4E4E4 36%,#D7D7D7 37%,#CECECE 100%)"></div>
<div class="abs" style="left:151px;top:52px;width:1px;height:20px;background:#ABADB3"></div>
<svg class="abs" style="left:68px;top:58px" width="10" height="7" viewBox="68 58 10 7"><path d="M69.6 59.8 L75.2 59.8 L72.4 63.2 Z" fill="#4054C4"/></svg>
<svg class="abs" style="left:157px;top:58px" width="10" height="7" viewBox="157 58 10 7"><path d="M158.8 62.9 L164.3 62.9 L161.55 59.6 Z" fill="#4054C4"/></svg>
<div class="abs" style="left:124px;top:55px;font-size:12px;line-height:14px;letter-spacing:0.2px;color:#000">0.01</div>
<div class="w" style="left:20.3px;top:56px;font-size:12.4px;line-height:14px;transform:scaleX(0.86);transform-origin:0 0">SELL</div>
<div class="w" style="left:188.4px;top:56px;font-size:12.4px;line-height:14px;transform:scaleX(0.92);transform-origin:0 0">BUY</div>
<div class="w" style="left:28px;top:95px;font-size:12.2px;line-height:14px;font-weight:bold;letter-spacing:0px">6.78</div>
<div class="w" style="left:138px;top:95px;font-size:12.2px;line-height:14px;font-weight:bold;letter-spacing:0px">6.78</div>
<div class="w" style="left:54.9px;top:74.5px;font-size:35px;line-height:38px;letter-spacing:-2.3px">76</div>
<div class="w" style="left:165.7px;top:74.5px;font-size:35px;line-height:38px;letter-spacing:-2.3px">98</div>
<div class="w" style="left:95.3px;top:80.5px;font-size:11px;line-height:12px;font-weight:bold">3</div>
<div class="w" style="left:206.3px;top:80.5px;font-size:11px;line-height:12px;font-weight:bold">8</div>
</body></html>
